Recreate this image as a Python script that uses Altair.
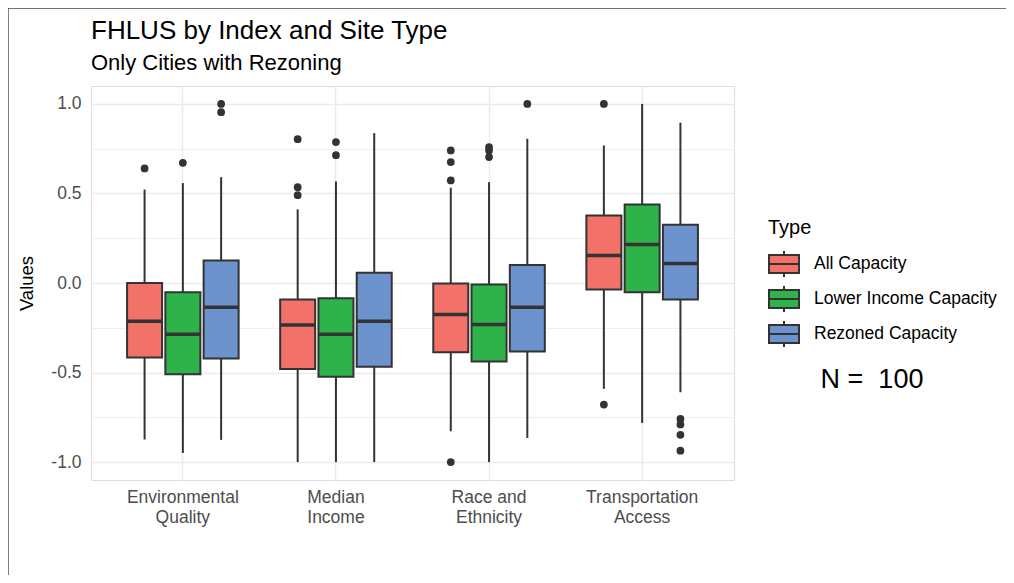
import altair as alt
import pandas as pd

# ---- data ----
indices = ["Environmental\nQuality", "Median\nIncome", "Race and\nEthnicity", "Transportation\nAccess"]
types = ["All Capacity", "Lower Income Capacity", "Rezoned Capacity"]
colors = ["#F2726A", "#2DB34A", "#6C93CE"]

# rows: index x type (index-major order)
box_index = [i for i in indices for _ in types]
box_type = [t for _ in indices for t in types]
whisker_low = [-0.874, -0.949, -0.876,
               -1.000, -1.000, -1.000,
               -0.828, -1.000, -0.865,
               -0.591, -0.781, -0.610]
q1 = [-0.416, -0.509, -0.422,
      -0.480, -0.524, -0.468,
      -0.386, -0.439, -0.383,
      -0.036, -0.051, -0.092]
median = [-0.213, -0.286, -0.135,
          -0.234, -0.286, -0.213,
          -0.176, -0.232, -0.135,
          0.154, 0.215, 0.109]
q3 = [0.000, -0.051, 0.126,
      -0.092, -0.085, 0.057,
      -0.003, -0.008, 0.101,
      0.377, 0.439, 0.325]
whisker_high = [0.522, 0.558, 0.591,
                0.411, 0.567, 0.837,
                0.532, 0.563, 0.805,
                0.768, 1.000, 0.895]

out_index = [indices[0], indices[0], indices[0], indices[0],
             indices[1], indices[1], indices[1], indices[1], indices[1],
             indices[2], indices[2], indices[2], indices[2], indices[2], indices[2], indices[2], indices[2],
             indices[3], indices[3], indices[3], indices[3], indices[3], indices[3]]
out_type = [types[0], types[1], types[2], types[2],
            types[0], types[0], types[0], types[1], types[1],
            types[0], types[0], types[0], types[0], types[1], types[1], types[1], types[2],
            types[0], types[0], types[2], types[2], types[2], types[2]]
out_value = [0.640, 0.671, 1.000, 0.954,
             0.803, 0.535, 0.490, 0.787, 0.714,
             0.740, 0.675, 0.573, -1.000, 0.759, 0.740, 0.703, 1.000,
             1.000, -0.679, -0.759, -0.790, -0.848, -0.936]

n_label = ["N =\u00a0 100"]

boxes = pd.DataFrame({"index": box_index, "type": box_type, "lo": whisker_low,
                      "q1": q1, "med": median, "q3": q3, "hi": whisker_high})
outliers = pd.DataFrame({"index": out_index, "type": out_type, "value": out_value})

FONT = "Liberation Sans"
DARK = "#333333"
minor_test = "abs(datum.value*2 - round(datum.value*2)) > 0.01"

x_enc = alt.X("index:N", sort=indices, title=None,
              scale=alt.Scale(paddingInner=0, paddingOuter=0.1),
              axis=alt.Axis(labelExpr="split(datum.label, '\\n')", labelFontSize=17.5,
                            labelColor="#4D4D4D", labelPadding=8, labelLineHeight=20,
                            ticks=False, domain=False, grid=True, gridColor="#EBEBEB",
                            gridWidth=1.5, labelAngle=0, bandPosition=0.5, labelFont=FONT))
xo_enc = alt.XOffset("type:N", sort=types, scale=alt.Scale(paddingInner=0, paddingOuter=0.5))
y_scale = alt.Scale(domain=[-1.1, 1.1], nice=False, zero=False)
y_axis = alt.Axis(values=[-1, -0.75, -0.5, -0.25, 0, 0.25, 0.5, 0.75, 1],
                  labelExpr=f"{minor_test} ? '' : replace(format(datum.value, '.1f'), '\u2212', '-')",
                  gridColor="#EBEBEB",
                  gridWidth={"condition": {"test": minor_test, "value": 0.8}, "value": 1.5},
                  ticks=False, tickSize=0, domain=False, labelFontSize=17.5, labelColor="#4D4D4D",
                  labelPadding=10, titleFontSize=18.5, titleFontWeight="normal", titleColor="black",
                  titlePadding=14, labelFont=FONT, titleFont=FONT)

color_enc = alt.Color("type:N", sort=types, scale=alt.Scale(domain=types, range=colors),
                      legend=alt.Legend(title="Type", orient="none", legendX=677, legendY=132,
                                        titleFontSize=20, titleFontWeight="normal", titleColor="black",
                                        titleFont=FONT, titlePadding=10,
                                        labelFontSize=17.5, labelColor="black", labelFont=FONT,
                                        labelOffset=14, rowPadding=-1, labelLimit=400,
                                        symbolType="M-1,-0.6H1V0.6H-1Z M-1,0H1 M0,-0.6V-0.87 M0,0.6V0.87",
                                        symbolSize=900, symbolStrokeColor=DARK, symbolStrokeWidth=2,
                                        symbolOpacity=1))

base = alt.Chart(boxes)

whisk_lo = base.mark_rule(color=DARK, strokeWidth=2).encode(
    x=x_enc, xOffset=xo_enc, y=alt.Y("lo:Q", scale=y_scale, axis=y_axis, title="Values"), y2="q1:Q")
whisk_hi = base.mark_rule(color=DARK, strokeWidth=2).encode(
    x=x_enc, xOffset=xo_enc, y=alt.Y("q3:Q"), y2="hi:Q")
box = base.mark_bar(width=35, stroke=DARK, strokeWidth=2, opacity=1).encode(
    x=x_enc, xOffset=xo_enc, y=alt.Y("q1:Q"), y2="q3:Q", color=color_enc)
med = base.mark_tick(size=35, thickness=3.5, color=DARK, opacity=1).encode(
    x=x_enc, xOffset=xo_enc, y=alt.Y("med:Q"))
pts = alt.Chart(outliers).mark_circle(size=60, color=DARK, opacity=1).encode(
    x=x_enc, xOffset=xo_enc, y=alt.Y("value:Q"))

ntext = alt.Chart(pd.DataFrame({"t": n_label})).mark_text(
    fontSize=27, font=FONT, color="black", align="center", baseline="middle").encode(
    text="t:N", x=alt.value(781), y=alt.value(294))

frame_top = alt.Chart(pd.DataFrame({"t": n_label})).mark_rule(color="#444444", strokeWidth=1.5).encode(
    x=alt.value(-83), x2=alt.value(923), y=alt.value(-78))
frame_left = alt.Chart(pd.DataFrame({"t": n_label})).mark_rule(color="#555555", strokeWidth=1.5).encode(
    x=alt.value(-83), y=alt.value(-78), y2=alt.value(497))

chart = alt.layer(whisk_lo, whisk_hi, box, med, pts, ntext, frame_top, frame_left).properties(
    width=643, height=394,
    title=alt.TitleParams("FHLUS by Index and Site Type", subtitle="Only Cities with Rezoning",
                          anchor="start", frame="group", fontSize=26, subtitleFontSize=22,
                          font=FONT, subtitleFont=FONT, fontWeight="normal", color="black",
                          subtitleColor="black", offset=10, subtitlePadding=9, dy=77),
    autosize=alt.AutoSizeParams(type="none"),
    padding={"left": 83, "top": 78, "right": 272, "bottom": 95},
).configure_view(stroke="transparent", strokeWidth=0).configure(background="white")

chart.save("out.html", embed_options={"renderer": "svg", "actions": False})
